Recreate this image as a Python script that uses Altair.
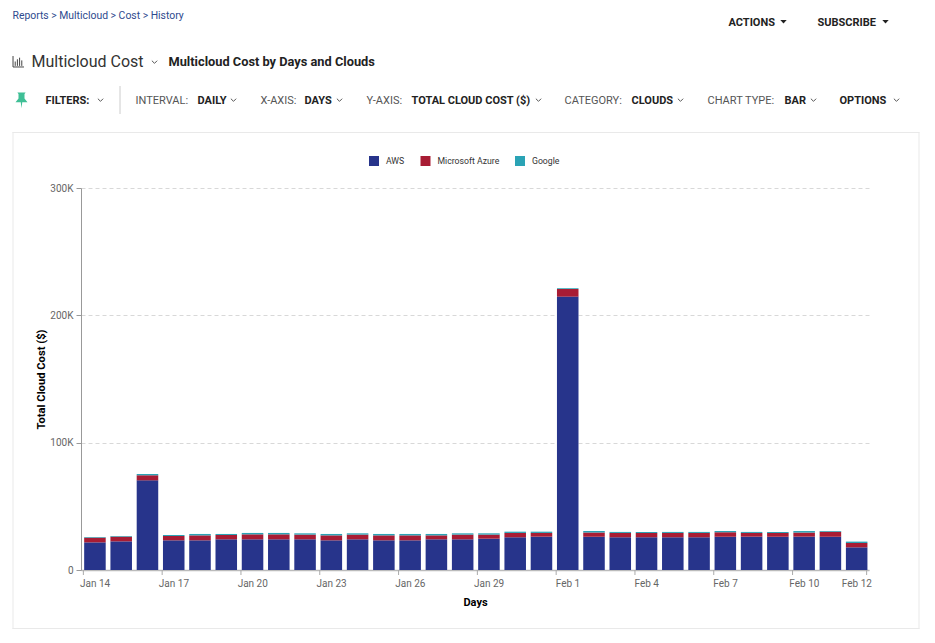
import altair as alt
import pandas as pd

days = ["Jan 14","Jan 15","Jan 16","Jan 17","Jan 18","Jan 19","Jan 20","Jan 21","Jan 22","Jan 23",
        "Jan 24","Jan 25","Jan 26","Jan 27","Jan 28","Jan 29","Jan 30","Jan 31","Feb 1","Feb 2",
        "Feb 3","Feb 4","Feb 5","Feb 6","Feb 7","Feb 8","Feb 9","Feb 10","Feb 11","Feb 12"]
aws = [21700,22500,70400,23300,23300,24100,24100,24100,24100,23300,
       24100,23300,23300,24100,24100,24600,25700,26200,214700,26200,
       25700,25700,25700,25700,26200,26200,26200,26200,26200,17800]
azure = [3700,3700,4000,3400,3900,3400,3900,3900,3700,3900,
         3700,3900,3900,3100,3700,3200,3400,2900,6000,3200,
         3400,3400,3400,3400,3400,2900,2900,3200,3900,3400]
google = [500,500,1000,800,1100,800,1100,1100,1000,1100,
          1000,1100,1100,1100,1000,1000,1000,1000,600,1200,
          800,800,800,800,1000,800,800,1200,500,1100]
clouds = ["AWS", "Microsoft Azure", "Google"]
cloud_colors = ["#27348b", "#a81c34", "#2aa3b5"]
y_ticks = [0, 100000, 200000, 300000]
x_labels = ["Jan 14","Jan 17","Jan 20","Jan 23","Jan 26","Jan 29","Feb 1","Feb 4","Feb 7","Feb 10","Feb 12"]
x_ticks_left = x_labels[:-1]
x_tick_right = x_labels[-1:]

FONT = "Roboto"
W, H = 788, 382
OX, OY = 80.5, 188  # page offset of the interface text relative to the plot origin

rows = []
for i, d in enumerate(days):
    for rank, (c, v) in enumerate(zip(clouds, (aws[i], azure[i], google[i]))):
        rows.append({"day": d, "cloud": c, "cost": v, "rank": rank})
df = pd.DataFrame(rows)

x_scale = alt.Scale(domain=days, paddingInner=0.18, paddingOuter=0.09)

bars = alt.Chart(df).mark_bar(xOffset=0.8).encode(
    x=alt.X("day:N", scale=x_scale, sort=None, title="Days",
            axis=alt.Axis(values=x_labels, labelAngle=0, ticks=False, domainColor="#bbbbbb", domainWidth=1.5,
                          labelColor="#666666", labelFont=FONT, labelFontSize=10, labelPadding=8, labelOffset=1,
                          titleFont=FONT, titleFontSize=11, titleFontWeight="bold", titleColor="#000000",
                          titlePadding=8, grid=False, labelOverlap=False)),
    y=alt.Y("cost:Q", stack="zero", scale=alt.Scale(domain=[0, 300000], nice=False),
            title="Total Cloud Cost ($)",
            axis=alt.Axis(values=y_ticks, labelExpr="datum.value === 0 ? '0' : datum.value / 1000 + 'K'",
                          grid=True, gridColor="#d8d8d8", gridDash=[4, 3], domainColor="#999999",
                          tickColor="#999999", tickSize=5, labelColor="#666666", labelFont=FONT,
                          labelFontSize=10, labelPadding=3, titleFont=FONT, titleFontSize=11.2,
                          titleFontWeight="bold", titleColor="#000000", titlePadding=3)),
    color=alt.Color("cloud:N", scale=alt.Scale(domain=clouds, range=cloud_colors),
                    legend=alt.Legend(orient="none", legendX=288, legendY=-32, direction="horizontal",
                                      title=None, columns=3, symbolType="square", symbolSize=100,
                                      symbolStrokeWidth=0, labelFont=FONT, labelFontSize=8.7,
                                      labelColor="#333333", columnPadding=15.5, labelOffset=7, labelLimit=120)),
    order=alt.Order("rank:Q"),
)

tick_left = alt.Chart(pd.DataFrame({"day": x_ticks_left})).mark_rule(color="#aaaaaa", strokeWidth=1).encode(
    x=alt.X("day:N", scale=x_scale, sort=None, bandPosition=0, title="Days"),
    y=alt.value(H), y2=alt.value(H + 5))
tick_right = alt.Chart(pd.DataFrame({"day": x_tick_right})).mark_rule(color="#aaaaaa", strokeWidth=1).encode(
    x=alt.X("day:N", scale=x_scale, sort=None, bandPosition=1, title="Days"),
    y=alt.value(H), y2=alt.value(H + 5))


def blank():
    return alt.Chart(alt.Data(values=[{"a": 1}]))


def label(text, px, py, size=11, weight="normal", color="#333333"):
    return blank().mark_text(align="left", baseline="middle", font=FONT, fontSize=size,
                             fontWeight=weight, color=color).encode(
        x=alt.value(px - OX), y=alt.value(py - OY), text=alt.value(text))


CHEVRON = "M-1,-0.5L0,0.5L1,-0.5"
TRI = "M-1,-0.5L1,-0.5L0,0.6Z"
PIN = "M-0.55,-1L0.55,-1L0.4,-0.8L0.4,-0.2L0.8,0.3L0.1,0.3L0,1.1L-0.1,0.3L-0.8,0.3L-0.4,-0.2L-0.4,-0.8Z"
BARS = "M-1,1L1,1M-1,-1L-1,1M-0.6,0.8L-0.6,0M-0.2,0.8L-0.2,-0.4M0.2,0.8L0.2,-0.7M0.6,0.8L0.6,-0.2"


def glyph(shape, px, py, size=30, color="#555555", filled=False, sw=1):
    return blank().mark_point(shape=shape, size=size, color=color, filled=filled,
                              strokeWidth=0 if filled else sw, opacity=1).encode(
        x=alt.value(px - OX), y=alt.value(py - OY))


def edge(x1, y1, x2, y2, color="#e9e9e9"):
    return blank().mark_rule(color=color, strokeWidth=1).encode(
        x=alt.value(x1 - OX), x2=alt.value(x2 - OX), y=alt.value(y1 - OY), y2=alt.value(y2 - OY))


BOLD_TXT = [("ACTIONS", 728, 23), ("SUBSCRIBE", 817, 23), ("FILTERS:", 45, 101), ("DAILY", 197, 101),
            ("DAYS", 304, 101), ("TOTAL CLOUD COST ($)", 411, 101), ("CLOUDS", 631, 101),
            ("BAR", 784, 101), ("OPTIONS", 839, 101)]
REG_TXT = [("INTERVAL:", 135, 101), ("X-AXIS:", 260, 101), ("Y-AXIS:", 366, 101),
           ("CATEGORY:", 564, 101), ("CHART TYPE:", 707, 101)]
CHEVS = [(154, 62), (100, 100), (233, 100), (339, 100), (538, 100), (680, 100), (813, 100), (896, 100)]
TRIS = [(783, 21.5), (885, 21.5)]

layers = [
    edge(12, 132.5, 919, 132.5), edge(12, 628.5, 919, 628.5),
    edge(12.5, 132, 12.5, 629), edge(918.5, 132, 918.5, 629),
    edge(119.5, 86, 119.5, 114, "#cccccc"),
    bars, tick_left, tick_right,
    label("Reports > Multicloud > Cost > History", 12, 15.5, 10.4, "normal", "#2e4a8e"),
    label("Multicloud Cost", 31, 61.5, 16, "normal", "#333333"),
    label("Multicloud Cost by Days and Clouds", 168, 62, 12.8, "bold", "#222222"),
]
layers += [label(t, x, y, 11, "bold", "#222222") for t, x, y in BOLD_TXT]
layers += [label(t, x, y, 11, "normal", "#555555") for t, x, y in REG_TXT]
layers += [glyph(CHEVRON, x, y, 28) for x, y in CHEVS]
layers += [glyph(TRI, x, y, 40, "#222222", True) for x, y in TRIS]
layers += [glyph(PIN, 21, 100, 225, "#3fbf96", True), glyph(BARS, 18, 61.5, 120, "#444444")]

chart = alt.layer(*layers).properties(
    width=W, height=H, padding={"left": 3, "top": 2, "right": 0, "bottom": 0}
).configure_view(stroke=None)

chart.save("out.html", embed_options={"renderer": "svg", "actions": False})
